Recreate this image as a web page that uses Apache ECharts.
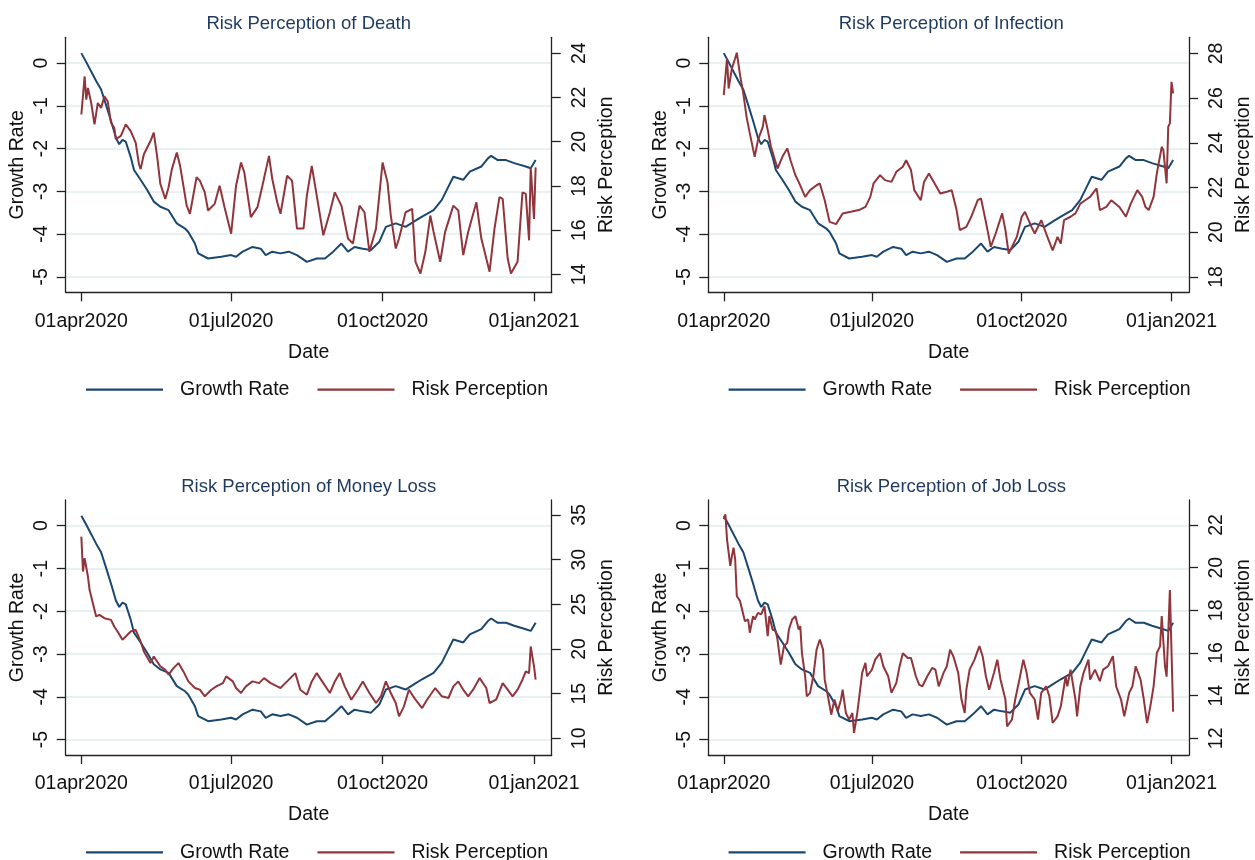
<!DOCTYPE html>
<html>
<head>
<meta charset="utf-8">
<title>Risk Perception</title>
<script src="https://cdn.jsdelivr.net/npm/echarts@6/dist/echarts.min.js"></script>
<style>
html, body { margin: 0; padding: 0; background: #fff; }
#main { width: 1255px; height: 860px; }
</style>
</head>
<body>
<div id="main"></div>
<script>
// x values are days counted from 01apr2020
var tickDays = [0, 91, 183, 275];
var tickLabels = ['01apr2020', '01jul2020', '01oct2020', '01jan2021'];
var growthTicks = [-5, -4, -3, -2, -1, 0];

var panelTitles = ['Risk Perception of Death', 'Risk Perception of Infection',
	'Risk Perception of Money Loss', 'Risk Perception of Job Loss'];
var riskTicks = [
	[14, 16, 18, 20, 22, 24],
	[18, 20, 22, 24, 26, 28],
	[10, 15, 20, 25, 30, 35],
	[12, 14, 16, 18, 20, 22]
];

// [day, growth rate]
var growthRate = [[0,0.23],[3,0.02],[9,-0.42],[12,-0.62],[15,-0.98],[18,-1.35],[21,-1.75],[23,-1.9],
	[25,-1.8],[27,-1.84],[30,-2.2],[32,-2.5],[36,-2.73],[40,-2.97],[44,-3.24],[48,-3.36],[53,-3.44],
	[58,-3.75],[63,-3.87],[65,-3.95],[69,-4.22],[71,-4.45],[77,-4.57],[85,-4.53],[91,-4.49],[94,-4.53],
	[98,-4.41],[104,-4.3],[109,-4.34],[112,-4.49],[116,-4.41],[121,-4.45],[126,-4.41],[131,-4.49],
	[137,-4.65],[143,-4.57],[148,-4.57],[153,-4.41],[158,-4.22],[162,-4.41],[166,-4.3],[171,-4.34],
	[176,-4.37],[181,-4.18],[185,-3.83],[191,-3.75],[197,-3.83],[202,-3.71],[207,-3.59],[214,-3.44],
	[219,-3.2],[223,-2.89],[226,-2.66],[232,-2.73],[236,-2.54],[243,-2.42],[247,-2.23],[249,-2.17],
	[253,-2.27],[258,-2.27],[263,-2.34],[270,-2.42],[273,-2.46],[276,-2.27]];

// [day, risk perception]
var riskDeath = [[0,21.23],[2,22.95],[3,21.9],[4,22.43],[6,21.75],[8,20.78],[10,21.75],[12,21.53],
	[14,22.05],[16,21.83],[18,20.86],[20,20.63],[21,20.11],[24,20.26],[27,20.78],[30,20.48],[33,19.96],
	[35,18.99],[36,18.76],[38,19.43],[42,20.03],[44,20.41],[46,19.36],[48,18.09],[51,17.41],[53,17.94],
	[55,18.76],[58,19.51],[60,18.91],[64,17.11],[66,16.74],[70,18.39],[72,18.24],[75,17.71],[77,16.89],
	[81,17.19],[84,18.01],[87,17.04],[91,15.84],[94,18.01],[97,19.06],[99,18.61],[103,16.59],[107,17.04],
	[110,18.01],[114,19.36],[116,18.31],[119,17.26],[121,16.74],[125,18.46],[128,18.24],[131,16.07],
	[135,16.07],[137,17.56],[140,18.91],[143,17.56],[147,15.77],[151,16.81],[154,17.71],[158,17.11],
	[162,15.62],[165,15.39],[169,17.11],[172,16.81],[175,15.02],[179,16.07],[183,19.06],[186,18.16],
	[188,16.66],[191,15.17],[193,15.62],[197,16.81],[201,16.96],[203,14.57],[206,14.04],[209,15.02],
	[212,16.66],[214,15.92],[218,14.57],[221,15.92],[226,17.11],[229,16.89],[232,14.87],[235,15.92],
	[240,17.26],[243,15.62],[248,14.12],[251,16.07],[254,17.49],[256,17.41],[259,14.72],[261,14.04],
	[265,14.57],[268,17.71],[270,17.64],[272,15.54],[273,18.84],[275,16.51],[276,18.84]];

var riskInfection = [[0,26.13],[2,27.78],[3,26.43],[5,27.33],[7,27.78],[8,28.03],[10,27.03],[12,26.21],
	[14,25.16],[16,24.42],[19,23.37],[21,24.12],[24,24.72],[25,25.24],[27,24.57],[29,23.82],[33,22.85],
	[36,23.37],[39,23.75],[41,23.22],[44,22.55],[46,22.25],[50,21.58],[53,21.88],[57,22.1],[59,22.18],
	[62,21.43],[65,20.46],[69,20.36],[73,20.84],[78,20.91],[83,20.99],[87,21.13],[90,21.58],[92,22.18],
	[96,22.55],[99,22.33],[103,22.25],[106,22.7],[110,22.93],[112,23.22],[115,22.78],[117,21.88],
	[121,21.43],[123,22.25],[126,22.63],[129,22.25],[133,21.73],[137,21.81],[140,21.88],[143,20.99],
	[145,20.09],[149,20.24],[152,20.69],[156,21.43],[158,21.51],[161,20.46],[164,19.34],[167,19.94],
	[171,20.84],[173,20.09],[175,19.04],[177,19.34],[180,19.79],[183,20.69],[185,20.91],[189,20.24],
	[191,19.94],[195,20.54],[198,19.94],[202,19.19],[205,19.79],[207,19.49],[209,20.54],[213,20.69],
	[216,20.84],[219,21.28],[222,21.43],[225,21.58],[229,21.96],[231,20.99],[235,21.13],[238,21.43],
	[243,21.13],[247,20.69],[250,21.28],[254,21.88],[257,21.58],[259,21.13],[261,20.99],[264,21.58],
	[266,22.63],[269,23.82],[270,23.67],[272,22.18],[273,24.72],[274,24.87],[275,26.73],[276,26.21]];

var riskMoney = [[0,32.58],[1,28.67],[2,30.16],[4,28.11],[5,26.62],[7,25.13],[9,23.64],[11,23.82],
	[14,23.45],[18,23.26],[20,22.52],[22,21.96],[25,21.03],[27,21.4],[30,21.96],[33,22.15],[36,20.84],
	[38,19.72],[42,18.42],[44,19.16],[48,18.05],[51,17.67],[53,17.12],[56,17.86],[59,18.42],[62,17.49],
	[65,16.37],[69,15.63],[72,15.44],[75,14.7],[79,15.44],[82,15.81],[86,16.18],[88,16.93],[92,16.37],
	[94,15.63],[97,15.07],[100,15.81],[104,16.37],[108,16.18],[111,16.74],[115,16.18],[119,15.81],
	[121,15.63],[125,16.37],[130,17.3],[133,15.44],[137,14.88],[140,16.37],[143,17.3],[147,16.18],
	[151,15.07],[154,16.37],[157,17.3],[160,15.81],[164,14.32],[168,15.44],[171,16.37],[175,15.07],
	[179,13.95],[182,14.7],[185,16.37],[188,15.07],[191,13.95],[193,12.46],[196,13.58],[199,15.44],
	[203,14.32],[207,13.39],[210,14.32],[215,15.63],[219,14.7],[223,14.51],[226,15.81],[229,16.37],
	[232,15.44],[235,14.7],[238,15.44],[242,16.74],[246,15.63],[248,13.95],[252,14.32],[256,16.18],
	[259,15.44],[262,14.7],[265,15.44],[268,16.56],[270,17.49],[272,17.3],[273,20.28],[275,18.05],
	[276,16.56]];

var riskJob = [[0,22.27],[1,22.5],[2,21.33],[4,20.08],[5,20.54],[6,20.94],[7,20.39],[8,18.67],[10,18.43],
	[11,18.51],[13,17.49],[15,17.57],[16,16.95],[18,17.73],[19,17.57],[21,17.88],[23,17.81],[25,18.2],
	[27,16.79],[28,17.73],[30,17.1],[32,17.02],[33,16.63],[35,15.46],[37,16.32],[39,16.48],[40,17.1],
	[42,17.57],[44,17.73],[46,17.1],[47,17.26],[48,16.0],[50,14.91],[51,13.97],[53,14.13],[55,14.91],
	[57,16.16],[59,16.63],[61,16.16],[62,14.75],[64,13.97],[66,13.11],[68,13.82],[70,13.27],[72,13.82],
	[73,14.28],[75,13.19],[77,12.88],[79,13.19],[80,12.25],[82,13.19],[84,14.44],[85,15.07],[87,15.54],
	[88,14.91],[91,15.22],[93,15.69],[96,15.99],[98,15.38],[101,14.91],[103,14.13],[106,14.6],[108,15.38],
	[110,15.99],[113,15.77],[115,15.77],[118,14.91],[120,14.52],[122,14.44],[125,14.91],[128,15.3],
	[130,15.22],[132,14.44],[135,15.07],[137,15.38],[139,16.16],[141,15.85],[144,15.07],[146,13.82],
	[148,13.19],[149,14.28],[151,15.22],[154,15.69],[157,16.32],[159,15.85],[161,14.91],[163,14.28],
	[166,15.07],[168,15.69],[170,14.75],[173,13.82],[174,12.56],[177,12.88],[179,13.82],[182,14.91],
	[184,15.69],[186,15.07],[188,14.13],[191,13.82],[193,12.88],[195,14.13],[198,14.44],[200,13.97],
	[202,12.72],[205,13.03],[207,13.5],[210,14.91],[211,14.44],[213,15.22],[216,13.82],[217,13.03],
	[219,14.44],[221,15.07],[224,15.69],[225,14.75],[228,15.22],[231,14.68],[233,15.22],[236,15.38],
	[239,15.85],[241,14.44],[244,13.82],[246,13.03],[249,14.13],[251,14.44],[253,15.38],[256,14.75],
	[258,13.82],[260,12.72],[262,13.5],[264,14.44],[266,16.0],[268,16.32],[269,17.73],[271,15.38],
	[272,14.89],[274,18.95],[276,13.25]];

var riskSeries = [riskDeath, riskInfection, riskMoney, riskJob];
// right axis extents
var riskMin = [13.19, 17.31, 8.13, 11.22];
var riskMax = [24.72, 28.72, 36.68, 23.17];

var FONT = '"Liberation Sans", Arial, sans-serif';
var BLUE = '#1a476f';
var RED = '#90353b';

function lineOf() {
	return { show: true, onZero: false, lineStyle: { color: '#222', width: 1.3 } };
}
function ticksAt(values) {
	return { show: true, length: 9, customValues: values.slice(), lineStyle: { color: '#222', width: 1.3 } };
}
function txt() {
	return { fontFamily: FONT, fontSize: 19.5, color: '#111' };
}

function buildOption() {
	var grids = [], xAxes = [], yAxes = [], series = [], titles = [], legends = [];

	for (var i = 0; i < 4; i++) {
		var gLeft = i % 2 ? 708.3 : 65.7;
		var gTop = i < 2 ? 37.3 : 500;
		grids.push({ left: gLeft, top: gTop, width: 486, height: 255 });

		titles.push({
			text: panelTitles[i], left: gLeft + 243, top: gTop - 23, textAlign: 'center', padding: 0,
			textStyle: { fontFamily: FONT, fontSize: 18.5, fontWeight: 'normal', color: '#1f3a5f' }
		});

		legends.push({
			left: gLeft + 20.3, top: gTop + 340.4, padding: 0, itemGap: 28,
			icon: 'rect', itemWidth: 77, itemHeight: 2.2,
			data: ['Growth Rate', 'Risk Perception'],
			textStyle: { fontFamily: FONT, fontSize: 19.5, lineHeight: 24, color: '#111', padding: [0, 0, 0, 12] }
		});

		xAxes.push({
			type: 'value', gridIndex: i, min: -9.5, max: 285.75,
			axisLine: lineOf(),
			axisTick: ticksAt(tickDays),
			axisLabel: {
				customValues: tickDays.slice(), margin: 19, fontFamily: FONT, fontSize: 19.5, color: '#111',
				formatter: function (v) { return tickLabels[tickDays.indexOf(v)]; }
			},
			splitLine: { show: false },
			name: 'Date', nameLocation: 'middle', nameGap: 50,
			nameTextStyle: txt()
		});

		yAxes.push({
			type: 'value', gridIndex: i, position: 'left', min: -5.36, max: 0.6,
			axisLine: lineOf(),
			axisTick: ticksAt(growthTicks),
			axisLabel: { customValues: growthTicks.slice(), rotate: 90, margin: 14, fontFamily: FONT, fontSize: 19.5, color: '#111' },
			splitLine: { show: true, lineStyle: { color: '#e8f0f2', width: 1.8 } },
			name: 'Growth Rate', nameLocation: 'middle', nameGap: 38, nameRotate: 90,
			nameTextStyle: txt()
		});

		yAxes.push({
			type: 'value', gridIndex: i, position: 'right', min: riskMin[i], max: riskMax[i],
			axisLine: lineOf(),
			axisTick: ticksAt(riskTicks[i]),
			axisLabel: { customValues: riskTicks[i].slice(), rotate: 90, margin: 18, fontFamily: FONT, fontSize: 19.5, color: '#111' },
			splitLine: { show: false },
			name: 'Risk Perception', nameLocation: 'middle', nameGap: 45, nameRotate: 90,
			nameTextStyle: txt()
		});

		series.push({
			name: 'Growth Rate', type: 'line', xAxisIndex: i, yAxisIndex: 2 * i,
			data: growthRate, symbol: 'none', lineStyle: { color: BLUE, width: 2 }, itemStyle: { color: BLUE }
		});
		series.push({
			name: 'Risk Perception', type: 'line', xAxisIndex: i, yAxisIndex: 2 * i + 1,
			data: riskSeries[i], symbol: 'none', lineStyle: { color: RED, width: 2 }, itemStyle: { color: RED }
		});
	}

	return {
		backgroundColor: '#fff',
		animation: false,
		title: titles,
		legend: legends,
		grid: grids,
		xAxis: xAxes,
		yAxis: yAxes,
		series: series
	};
}

var chart = echarts.init(document.getElementById('main'));
chart.setOption(buildOption());
</script>
</body>
</html>
